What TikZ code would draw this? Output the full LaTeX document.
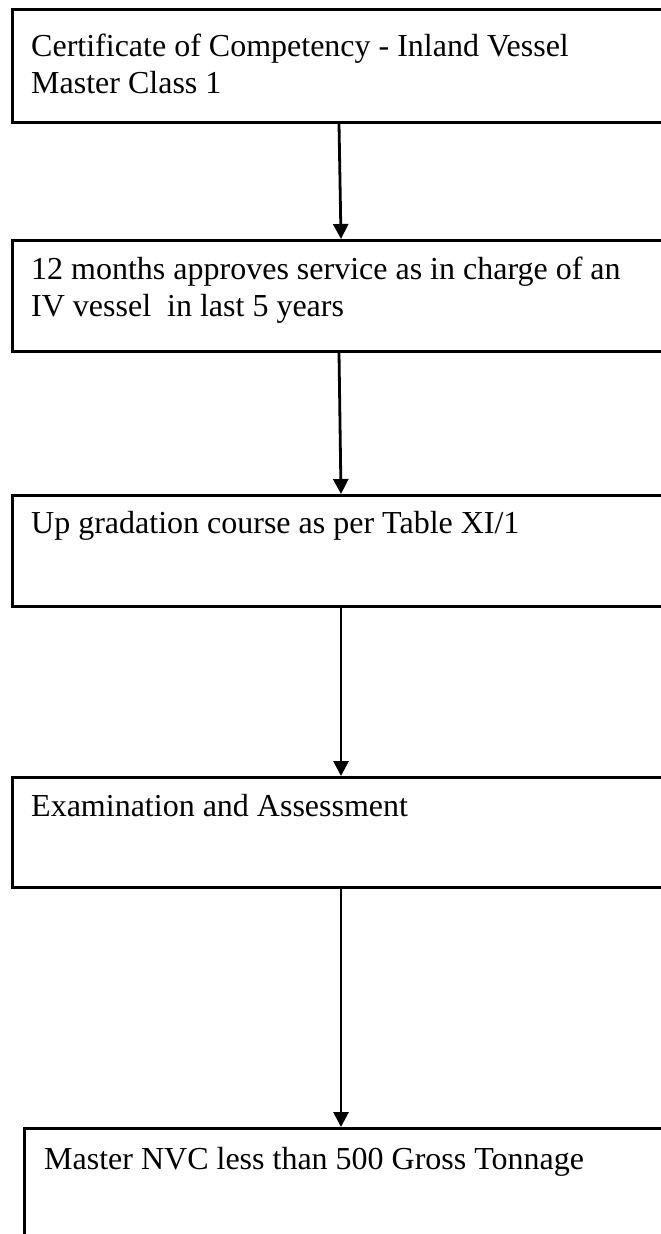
\documentclass[tikz,border=0pt]{standalone}
\usepackage{fontspec}
\setmainfont{Liberation Serif}
\usetikzlibrary{arrows.meta}
\begin{document}
\begin{tikzpicture}[x=1pt,y=-1pt,
  box/.style={draw=black,line width=2.5pt,anchor=north west,minimum width=700pt,minimum height=113pt,inner sep=0pt},
  txt/.style={anchor=base west,inner sep=0pt,font=\fontsize{32}{37}\selectfont},
  arr/.style={line width=2.8pt,-{Triangle[length=15pt,width=15pt]}}]
\useasboundingbox (0,0) rectangle (661,1234);
\clip (0,0) rectangle (661,1234);
\node[box] (b1) at (11,8) {};
\node[box,minimum height=111pt] (b2) at (11,239) {};
\node[box,minimum height=111pt] (b3) at (11,494) {};
\node[box,minimum height=110pt] (b4) at (11,776) {};
\node[box,minimum height=200pt] (b5) at (23,1127) {};
\node[txt] (t1a) at (31,56) {Certificate of Competency - Inland Vessel};
\node[txt] (t1b) at (31,93) {Master Class 1};
\node[txt] (t2a) at (31,279) {12 months approves service as in charge of an};
\node[txt] (t2b) at (31,316) {IV vessel\ \ in last 5 years};
\node[txt] (t3) at (31,533) {Up gradation course as per Table XI/1};
\node[txt] (t4) at (31,816) {Examination and Assessment};
\node[txt] (t5) at (44,1169) {Master NVC less than 500 Gross Tonnage};
\draw[arr] ([xshift=328pt]b1.south west) -- ([xshift=330pt]b2.north west);
\draw[arr] ([xshift=328pt]b2.south west) -- ([xshift=330pt]b3.north west);
\draw[arr] ([xshift=330pt]b3.south west) -- ([xshift=330pt]b4.north west);
\draw[arr] ([xshift=330pt]b4.south west) -- ([xshift=318pt]b5.north west);
\end{tikzpicture}
\end{document}
